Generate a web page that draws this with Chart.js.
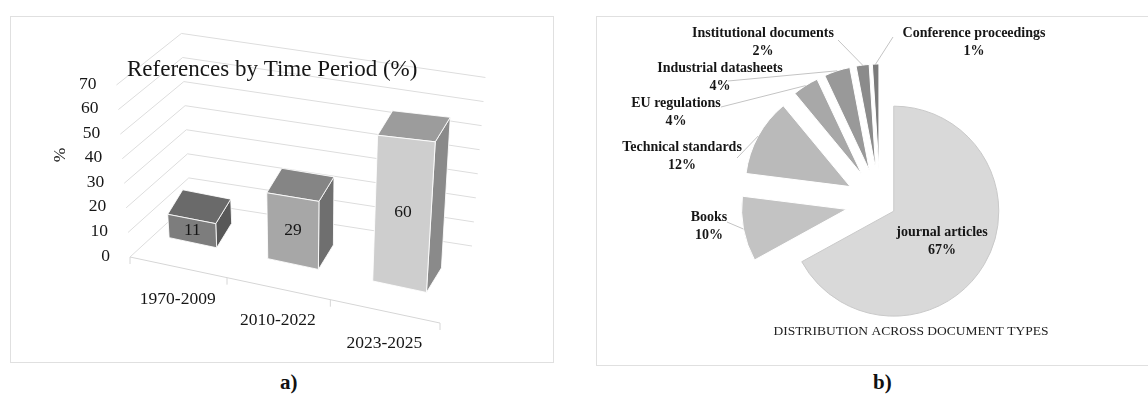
<!DOCTYPE html>
<html>
<head>
<meta charset="utf-8">
<script src="https://cdn.jsdelivr.net/npm/chart.js@4.4.1/dist/chart.umd.min.js"></script>
<style>
  html, body { margin: 0; padding: 0; background: #fff; }
  body { width: 1148px; height: 399px; position: relative; overflow: hidden; }
  .panel { position: absolute; border: 1px solid #e0e0e0; }
  .panel canvas { display: block; }
  #boxA { left: 10px; top: 16px; }
  #boxB { left: 596px; top: 16px; }
  .tag { position: absolute; top: 370px; font: bold 21px "Liberation Serif", serif; color: #111; }
</style>
</head>
<body>
<div class="panel" id="boxA"><canvas id="periodChart" width="542" height="345"></canvas></div>
<div class="panel" id="boxB"><canvas id="typeChart" width="560" height="348"></canvas></div>
<div class="tag" style="left:280px">a)</div>
<div class="tag" style="left:873px">b)</div>
<script>
// a) share of references per publication period
const periods = ['1970-2009', '2010-2022', '2023-2025'];
const periodShares = [11, 29, 60];
const valueTicks = [0, 10, 20, 30, 40, 50, 60, 70];

// b) share of references per document type
const typeNames = ['journal articles', 'Books', 'Technical standards', 'EU regulations',
  'Industrial datasheets', 'Institutional documents', 'Conference proceedings'];
const typeShares = [67, 10, 12, 4, 4, 2, 1];

const serif = '"Liberation Serif", serif';

// fake perspective for the 3-D columns
const view = {
  bend: 0.101,          // floor front edge widens toward the near (right) end
  slope: 0.213,         // fall of the floor front edge
  vanish: 170,          // vertical edges lean away from area.left + vanish
  lean: 2160,
  depth: [15, -24.5],   // one column depth
  wall: [60, -55],      // floor front-left corner to the back wall
  backRight: [32, -77], // floor front-right corner to the back wall
  backShrink: 0.98
};

const barFaces = [
  { front: '#7d7d7d', top: '#6a6a6a', side: '#585858' },
  { front: '#a7a7a7', top: '#858585', side: '#6f6f6f' },
  { front: '#cecece', top: '#9c9c9c', side: '#8a8a8a' }
];

function floorX(a, fx) {
  const w = a.right - a.left;
  const t = (fx - a.left) / w;
  return a.left + w * (t + view.bend * t * t) / (1 + view.bend);
}
function floorPoint(a, sx) {
  return [sx, a.bottom + view.slope * (sx - a.left)];
}
function lift(a, x, y, h) {
  const vx = a.left + view.vanish;
  return [x + (x - vx) * h / view.lean, y - h];
}
function grow(a, sx) {
  return 1.03 - (a.right - sx) * 0.000616;
}
function poly(ctx, pts, fill, stroke) {
  ctx.beginPath();
  ctx.moveTo(pts[0][0], pts[0][1]);
  for (let i = 1; i < pts.length; i++) ctx.lineTo(pts[i][0], pts[i][1]);
  ctx.closePath();
  ctx.fillStyle = fill;
  ctx.fill();
  ctx.strokeStyle = stroke;
  ctx.lineWidth = 1;
  ctx.stroke();
}

const columns3d = {
  id: 'columns3d',
  beforeDatasetsDraw(chart) {
    const { ctx, chartArea: a, scales: { x, y } } = chart;
    ctx.save();
    // walls with gridlines and value labels
    const fr = floorPoint(a, a.right);
    ctx.font = '17.5px ' + serif;
    ctx.fillStyle = '#161616';
    ctx.textAlign = 'right';
    ctx.textBaseline = 'middle';
    valueTicks.forEach(v => {
      const h = y.getPixelForValue(0) - y.getPixelForValue(v);
      const fl = lift(a, a.left, a.bottom, h);
      const bl = lift(a, a.left + view.wall[0], a.bottom + view.wall[1], h * view.backShrink);
      const br = lift(a, fr[0] + view.backRight[0], fr[1] + view.backRight[1], h * view.backShrink);
      ctx.beginPath();
      ctx.moveTo(fl[0], fl[1]);
      ctx.lineTo(bl[0], bl[1]);
      ctx.lineTo(br[0], br[1]);
      ctx.strokeStyle = '#dddddd';
      ctx.lineWidth = 1;
      ctx.stroke();
      ctx.fillText(String(v), fl[0] - 20, fl[1] - 1);
    });
    // floor front edge with category ticks
    ctx.strokeStyle = '#d6d6d6';
    ctx.beginPath();
    ctx.moveTo(a.left, a.bottom);
    ctx.lineTo(fr[0], fr[1]);
    const band = (a.right - a.left) / periods.length;
    for (let i = 0; i <= periods.length; i++) {
      const p = floorPoint(a, floorX(a, a.left + band * i));
      ctx.moveTo(p[0], p[1]);
      ctx.lineTo(p[0], p[1] + 7);
    }
    ctx.stroke();
    // category labels
    ctx.textAlign = 'center';
    const meta = chart.getDatasetMeta(0);
    meta.data.forEach((el, i) => {
      const p = floorPoint(a, floorX(a, el.x));
      ctx.fillText(periods[i], p[0], p[1] + 32);
    });
    // title and axis name
    ctx.font = '23px ' + serif;
    ctx.textAlign = 'left';
    ctx.fillText('References by Time Period (%)', a.left - 3, a.top - 15);
    ctx.save();
    ctx.translate(a.left - 70, a.top + 70);
    ctx.rotate(-Math.PI / 2);
    ctx.font = '17.5px ' + serif;
    ctx.textAlign = 'center';
    ctx.fillText('%', 0, 0);
    ctx.restore();
    ctx.restore();
  },
  afterDatasetsDraw(chart) {
    const { ctx, chartArea: a } = chart;
    const [dx, dy] = view.depth;
    ctx.save();
    chart.getDatasetMeta(0).data.forEach((el, i) => {
      const l = floorX(a, el.x - el.width / 2);
      const r = floorX(a, el.x + el.width / 2);
      const pl = floorPoint(a, l), pr = floorPoint(a, r);
      const fbl = [pl[0] + dx, pl[1] + dy];
      const fbr = [pr[0] + dx, pr[1] + dy];
      const h = el.base - el.y;
      const ftl = lift(a, fbl[0], fbl[1], h * grow(a, fbl[0]));
      const ftr = lift(a, fbr[0], fbr[1], h * grow(a, fbr[0]));
      const btl = [ftl[0] + dx, ftl[1] + dy];
      const btr = [ftr[0] + dx, ftr[1] + dy];
      const bbr = [fbr[0] + dx, fbr[1] + dy];
      const f = barFaces[i];
      poly(ctx, [fbr, bbr, btr, ftr], f.side, 'rgba(255,255,255,0.85)');
      poly(ctx, [ftl, ftr, btr, btl], f.top, 'rgba(255,255,255,0.85)');
      poly(ctx, [fbl, fbr, ftr, ftl], f.front, 'rgba(255,255,255,0.85)');
      ctx.font = '17.5px ' + serif;
      ctx.fillStyle = '#161616';
      ctx.textAlign = 'center';
      ctx.textBaseline = 'middle';
      const cx = (fbl[0] + fbr[0] + ftr[0] + ftl[0]) / 4;
      const cy = (fbl[1] + fbr[1] + ftr[1] + ftl[1]) / 4;
      ctx.fillText(String(periodShares[i]), cx, cy);
    });
    ctx.restore();
  }
};

new Chart(document.getElementById('periodChart'), {
  type: 'bar',
  data: {
    labels: periods,
    datasets: [{
      data: periodShares,
      backgroundColor: 'rgba(0,0,0,0)',
      borderWidth: 0,
      categoryPercentage: 1,
      barPercentage: 0.49
    }]
  },
  options: {
    responsive: false,
    animation: false,
    layout: { padding: { left: 119, right: 113, top: 68, bottom: 105 } },
    plugins: { legend: { display: false }, title: { display: false }, tooltip: { enabled: false } },
    scales: {
      x: { display: false },
      y: { display: false, min: 0, max: 70, ticks: { stepSize: 10 } }
    }
  },
  plugins: [columns3d]
});

// pie: fills, how far each slice is pulled out, and label layout
const sliceFill = ['#d9d9d9', '#c3c3c3', '#bababa', '#a8a8a8', '#999999', '#8b8b8b', '#7b7b7b'];
const sliceEdge = ['#c9c9c9', '#ffffff', '#ffffff', '#ffffff', '#ffffff', '#ffffff', '#ffffff'];
const slicePull = [16, 34, 34, 34, 34, 34, 34];
// label centre and leader start, relative to the pie centre
const labelSpots = [
  { at: [62, 29] },
  { at: [-171, 14], lead: [-153, 19] },
  { at: [-198, -56], lead: [-143, -45] },
  { at: [-204, -100], lead: [-159, -96] },
  { at: [-160, -135], lead: [-152, -122] },
  { at: [-117, -170], lead: [-42, -163] },
  { at: [94, -170], lead: [13, -166] }
];

// move every slice outward along its middle angle
const explode = {
  id: 'explode',
  afterUpdate(chart) {
    chart.getDatasetMeta(0).data.forEach((arc, i) => {
      const mid = (arc.startAngle + arc.endAngle) / 2;
      arc.x += Math.cos(mid) * slicePull[i];
      arc.y += Math.sin(mid) * slicePull[i];
    });
  }
};

const pieLabels = {
  id: 'pieLabels',
  afterDatasetsDraw(chart) {
    const { ctx, chartArea: a } = chart;
    const cx = (a.left + a.right) / 2, cy = (a.top + a.bottom) / 2;
    const arcs = chart.getDatasetMeta(0).data;
    ctx.save();
    arcs.forEach((arc, i) => {
      const mid = (arc.startAngle + arc.endAngle) / 2;
      const spot = labelSpots[i];
      if (spot.lead) {
        const tip = [arc.x + Math.cos(mid) * arc.outerRadius, arc.y + Math.sin(mid) * arc.outerRadius];
        ctx.beginPath();
        ctx.moveTo(cx + spot.lead[0], cy + spot.lead[1]);
        ctx.lineTo(tip[0], tip[1]);
        ctx.strokeStyle = '#c4c4c4';
        ctx.lineWidth = 1;
        ctx.stroke();
      }
      ctx.font = 'bold 14px ' + serif;
      ctx.fillStyle = '#161616';
      ctx.textAlign = 'center';
      ctx.textBaseline = 'middle';
      ctx.fillText(typeNames[i], cx + spot.at[0], cy + spot.at[1]);
      ctx.fillText(typeShares[i] + '%', cx + spot.at[0], cy + spot.at[1] + 18);
    });
    ctx.font = '13.5px ' + serif;
    ctx.fillStyle = '#222';
    ctx.fillText('DISTRIBUTION ACROSS DOCUMENT TYPES', cx + 31, cy + 128);
    ctx.restore();
  }
};

new Chart(document.getElementById('typeChart'), {
  type: 'pie',
  data: {
    labels: typeNames,
    datasets: [{
      data: typeShares,
      backgroundColor: sliceFill,
      borderColor: sliceEdge,
      borderWidth: 1
    }]
  },
  options: {
    responsive: false,
    animation: false,
    radius: 105,
    layout: { padding: { left: 150, right: 144, top: 56, bottom: 32 } },
    plugins: { legend: { display: false }, title: { display: false }, tooltip: { enabled: false } }
  },
  plugins: [explode, pieLabels]
});
</script>
</body>
</html>
